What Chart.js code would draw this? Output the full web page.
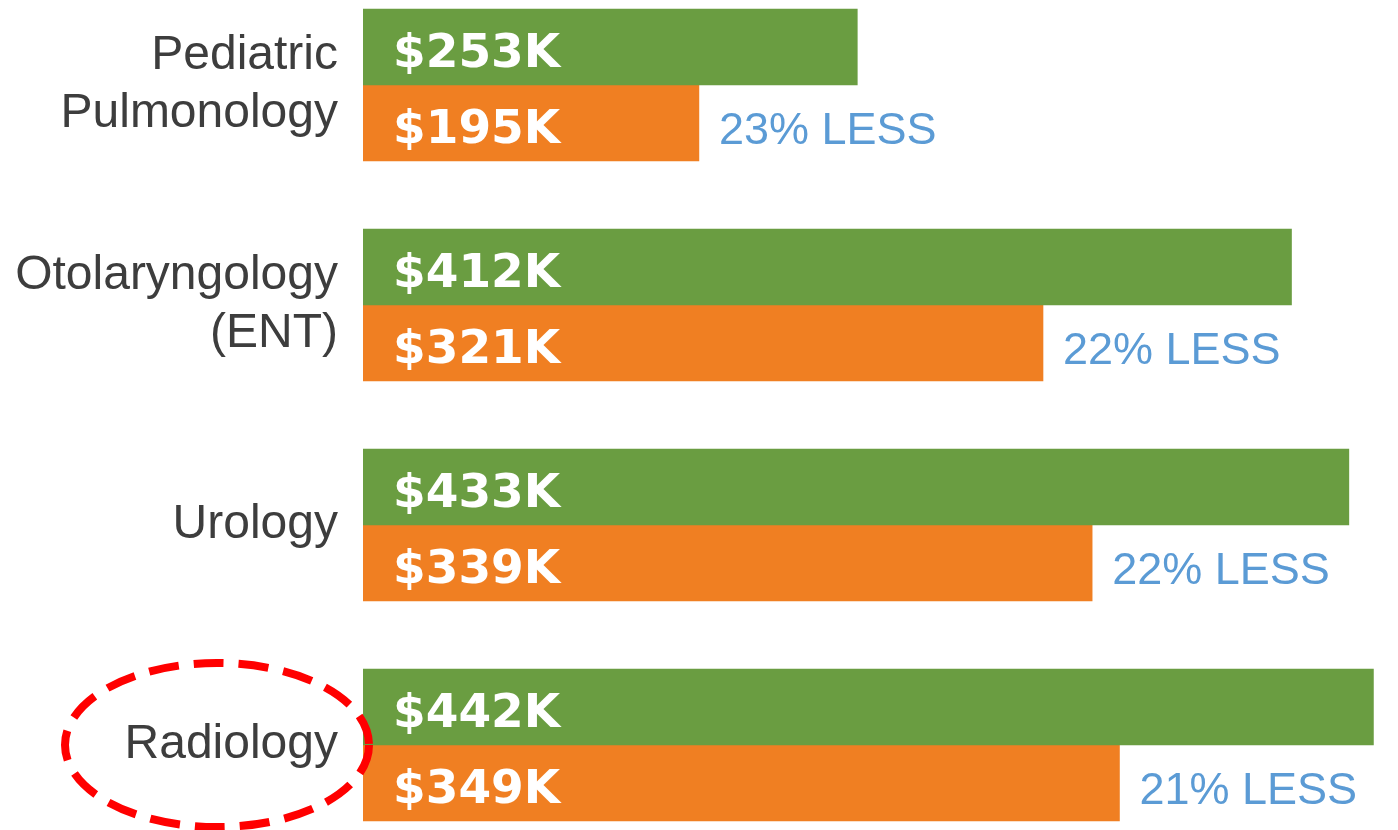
<!DOCTYPE html>
<html>
<head>
<meta charset="utf-8">
<script src="https://cdn.jsdelivr.net/npm/chart.js@4.4.0/dist/chart.umd.min.js"></script>
<style>
  html, body { margin: 0; padding: 0; background: #fff; overflow: hidden; }
  #frame { width: 1398px; height: 830px; position: relative; overflow: hidden; }
  /* the plot runs a little past the top and bottom edge of the picture */
  #wrap { width: 1398px; height: 880px; position: absolute; left: 0; top: -25px; }
</style>
</head>
<body>
<div id="frame"><div id="wrap"><canvas id="chart"></canvas></div></div>
<script>
const categories = [["Pediatric", "Pulmonology"], ["Otolaryngology", "(ENT)"], ["Urology"], ["Radiology"]];
const salaryHigh = [253, 412, 433, 442];
const salaryLow = [195, 321, 339, 349];
const lessPct = [23, 22, 22, 21];

const GREEN = '#6a9d41';
const ORANGE = '#f07f22';
const BLUE = '#5b9bd5';

// white values inside the bars, blue "% LESS" after the orange ones, red ring round Radiology
const barLabels = {
    id: 'barLabels',
    afterDatasetsDraw(chart) {
        const ctx = chart.ctx;
        const left = chart.chartArea.left;
        ctx.save();
        ctx.textAlign = 'left';
        ctx.textBaseline = 'middle';
        chart.data.datasets.forEach((ds, di) => {
            chart.getDatasetMeta(di).data.forEach((bar, i) => {
                ctx.font = 'bold 47px "DejaVu Sans"';
                ctx.fillStyle = '#ffffff';
                ctx.fillText('$' + ds.data[i] + 'K', left + 30, bar.y + 8);
                if (di === 1) {
                    ctx.font = '45px "Liberation Sans"';
                    ctx.fillStyle = BLUE;
                    ctx.fillText(lessPct[i] + '% LESS', bar.x + 20, bar.y + 9);
                }
            });
        });

        const yRad = chart.scales.y.getPixelForValue(3);
        ctx.beginPath();
        ctx.ellipse(left - 146, yRad, 152, 82, 0, 0, Math.PI * 2);
        ctx.strokeStyle = '#ff0000';
        ctx.lineWidth = 8;
        ctx.setLineDash([30, 15]);
        ctx.stroke();
        ctx.restore();
    }
};

new Chart(document.getElementById('chart'), {
    type: 'bar',
    data: {
        labels: categories,
        datasets: [
            { label: 'High', data: salaryHigh, backgroundColor: GREEN, barThickness: 76 },
            { label: 'Low', data: salaryLow, backgroundColor: ORANGE, barThickness: 76 }
        ]
    },
    options: {
        indexAxis: 'y',
        responsive: true,
        maintainAspectRatio: false,
        animation: false,
        layout: { padding: 0 },
        plugins: {
            legend: { display: false },
            tooltip: { enabled: false }
        },
        scales: {
            x: {
                display: false,
                min: 72,
                max: 451
            },
            y: {
                grid: { display: false, drawTicks: false },
                border: { display: false },
                ticks: {
                    padding: 25,
                    autoSkip: false,
                    color: '#3d3d3d',
                    font: { family: '"Liberation Sans"', size: 48, lineHeight: 1.2 }
                },
                afterFit(scale) {
                    scale.width = 363;
                    scale.paddingTop = 0;
                    scale.paddingBottom = 0;
                }
            }
        }
    },
    plugins: [barLabels]
});
</script>
</body>
</html>
